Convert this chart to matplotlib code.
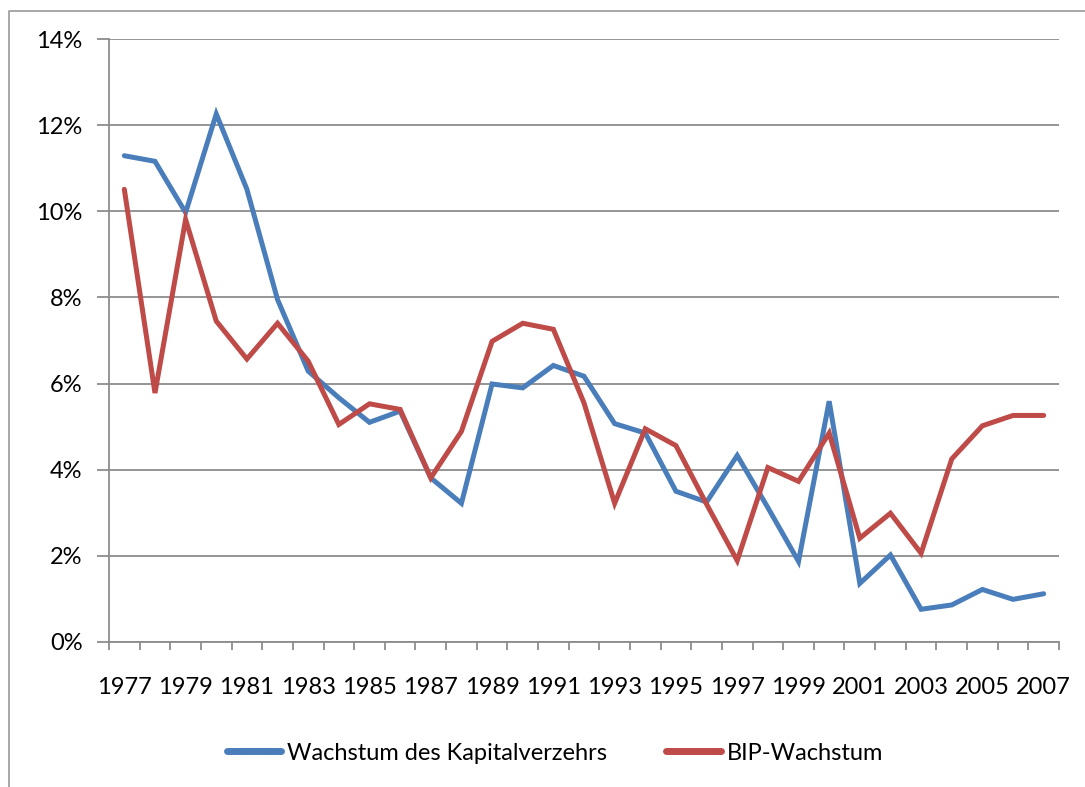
import matplotlib.pyplot as plt
from matplotlib.lines import Line2D
from matplotlib.ticker import FixedLocator, FuncFormatter

plt.rcParams['font.family'] = ['Lato', 'DejaVu Sans']

# Jahre und Wachstumsraten in Prozent
years = list(range(1977, 2008))
kapitalverzehr = [11.29, 11.16, 9.97, 12.26, 10.51, 7.95, 6.29, 5.67, 5.10, 5.36,
                  3.81, 3.22, 5.99, 5.90, 6.42, 6.17, 5.07, 4.85, 3.50, 3.25,
                  4.33, 3.12, 1.87, 5.59, 1.36, 2.02, 0.76, 0.86, 1.22, 0.99, 1.12]
bip = [10.51, 5.78, 9.81, 7.45, 6.57, 7.40, 6.52, 5.05, 5.53, 5.40,
       3.81, 4.89, 6.98, 7.40, 7.26, 5.55, 3.22, 4.95, 4.56, 3.20,
       1.89, 4.05, 3.73, 4.85, 2.41, 2.99, 2.06, 4.25, 5.02, 5.26, 5.26]
yticks = [0, 2, 4, 6, 8, 10, 12, 14]

blue = '#4A7EBB'
red = '#BE4B48'
grid_col = '#8C8C8C'
fs = 17

fig = plt.figure(figsize=(10.85, 7.87), dpi=100)
ax = fig.add_axes([109 / 1085, 1 - 642 / 787, 950 / 1085, 603 / 787])

ax.plot(years, kapitalverzehr, color=blue, lw=3.6, solid_capstyle='round',
        solid_joinstyle='miter', label='Wachstum des Kapitalverzehrs')
ax.plot(years, bip, color=red, lw=3.6, solid_capstyle='round',
        solid_joinstyle='miter', label='BIP-Wachstum')

ax.set_xlim(years[0] - 0.5, years[-1] + 0.5)
ax.set_ylim(0, 14)

ax.set_yticks(yticks)
ax.yaxis.set_major_formatter(FuncFormatter(lambda v, p: f'{int(v)}%'))
ax.yaxis.grid(True, color=grid_col, lw=1.3)
ax.set_axisbelow(True)

ax.set_xticks(years[::2])
ax.set_xticklabels([str(y) for y in years[::2]])
ax.xaxis.set_minor_locator(FixedLocator([y - 0.5 for y in years] + [years[-1] + 0.5]))
ax.tick_params(axis='x', which='major', length=0, pad=25, labelsize=fs)
ax.tick_params(axis='x', which='minor', length=6, color=grid_col, width=1.3, direction='out')
ax.tick_params(axis='y', length=9, color=grid_col, width=1.3, pad=10, labelsize=fs)

for s in ['top', 'right']:
    ax.spines[s].set_visible(False)
for s in ['left', 'bottom']:
    ax.spines[s].set_color(grid_col)
    ax.spines[s].set_linewidth(1.3)

handles = [Line2D([], [], color=blue, lw=5, solid_capstyle='round'),
           Line2D([], [], color=red, lw=5, solid_capstyle='round')]
fig.legend(handles, ['Wachstum des Kapitalverzehrs', 'BIP-Wachstum'],
           loc='center', bbox_to_anchor=(555 / 1085, 1 - 753 / 787),
           ncol=2, frameon=False, fontsize=fs, handlelength=2.3,
           handletextpad=0.25, columnspacing=2.5)

# Rahmen des Diagramms (oben und links sichtbar)
fig.add_artist(Line2D([9 / 1085, 9 / 1085, 1], [0, 1 - 11 / 787, 1 - 11 / 787],
                      transform=fig.transFigure, color='#A0A0A0', lw=1.3))

fig.savefig('out.png', dpi=100)
